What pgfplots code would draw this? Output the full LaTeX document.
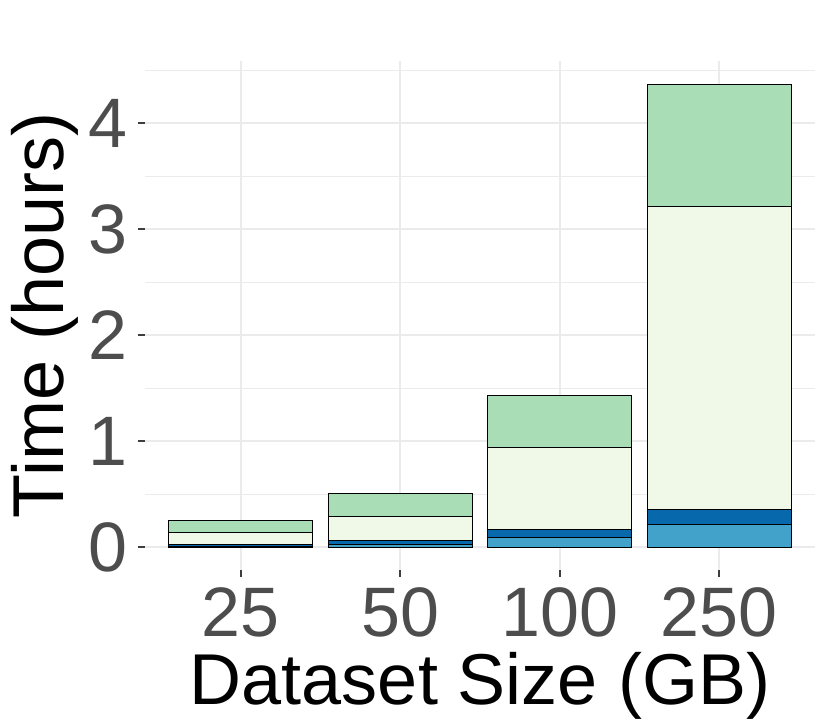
\documentclass[border=0pt]{standalone}
\usepackage{fontspec}
\setmainfont{Liberation Sans}
\usepackage{pgfplots}
\pgfplotsset{compat=1.18}
\definecolor{cA}{HTML}{43A2CA}
\definecolor{cB}{HTML}{0868AC}
\definecolor{cC}{HTML}{F0F9E8}
\definecolor{cD}{HTML}{A8DDB5}
\definecolor{gridc}{HTML}{EBEBEB}
\definecolor{tickc}{HTML}{4D4D4D}
\begin{document}
\begin{tikzpicture}
\begin{axis}[
  name=ax,
  scale only axis,
  width=335pt, height=254.5pt,
  xmin=0.4, xmax=4.6,
  ymin=-0.217, ymax=4.585,
  ybar stacked,
  bar width=0.9,
  xtick={1,2,3,4},
  xticklabels={25,50,100,250},
  ytick={0,1,2,3,4},
  minor ytick={0.5,1.5,2.5,3.5,4.5},
  xmajorgrids, ymajorgrids, yminorgrids,
  major grid style={draw=gridc, line width=1pt},
  minor grid style={draw=gridc, line width=0.5pt},
  axis line style={draw=none},
  tick pos=left,
  tick align=outside,
  major tick length=3.5pt,
  minor tick length=0pt,
  major tick style={draw=tickc!80!black, line width=1.1pt},
  /pgf/number format/assume math mode=true,
  tick label style={font=\fontsize{35}{40}\selectfont, text=tickc},
  yticklabel style={inner sep=0pt, anchor=east, xshift=-5pt},
  xticklabel style={inner sep=0pt, anchor=north, yshift=-5pt},
  xlabel={Dataset Size (GB)},
  ylabel={Time (hours)},
  label style={font=\fontsize{36}{42}\selectfont},
  xlabel style={at={(axis description cs:0.5,0)}, anchor=base, yshift=-67pt},
  ylabel style={at={(axis description cs:-0.149,0.5)}, anchor=center},
  every axis plot/.append style={draw=black, line width=0.5pt},
]
\addplot[fill=cA] coordinates {(1,0.008) (2,0.022) (3,0.092) (4,0.208)};
\addplot[fill=cB] coordinates {(1,0.012) (2,0.038) (3,0.075) (4,0.148)};
\addplot[fill=cC] coordinates {(1,0.119) (2,0.226) (3,0.776) (4,2.854)};
\addplot[fill=cD] coordinates {(1,0.113) (2,0.217) (3,0.484) (4,1.150)};
\end{axis}
\pgfresetboundingbox
\path[use as bounding box] ([xshift=-72.5pt,yshift=-78.5pt]ax.south west) rectangle ([xshift=7.5pt,yshift=30.5pt]ax.north east);
\end{tikzpicture}
\end{document}
